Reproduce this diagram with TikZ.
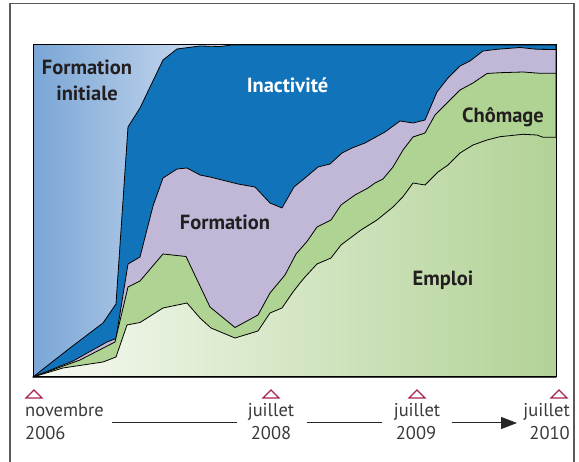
\documentclass[tikz,border=0pt]{standalone}
\usepackage{fontspec}
\setmainfont{PT Sans}
\usetikzlibrary{arrows.meta}
\definecolor{inibl}{RGB}{122,166,214}
\definecolor{inibr}{RGB}{214,226,242}
\definecolor{inact}{RGB}{17,116,186}
\definecolor{lav}{RGB}{193,184,216}
\definecolor{chom}{RGB}{174,211,146}
\definecolor{empl}{RGB}{247,250,243}
\definecolor{empr}{RGB}{178,210,150}
\definecolor{crim}{RGB}{168,35,78}
\definecolor{txt}{RGB}{35,31,32}
\definecolor{tl}{RGB}{58,58,58}
\definecolor{framec}{RGB}{90,90,90}
\tikzset{
  curve/.style={draw=black,line width=0.8pt,line join=round},
  lbl/.style={font=\fontsize{20.5}{24}\selectfont\bfseries,text=txt,inner sep=0pt,anchor=base},
  datetxt/.style={font=\fontsize{18.5}{22}\selectfont,text=tl,inner sep=0pt},
  trimark/.style={draw=crim,line width=1.1pt,line join=miter},
  tline/.style={draw=black!85,line width=1pt}
}
\begin{document}
\begin{tikzpicture}[x=1pt,y=-1pt]
\useasboundingbox (0,0) rectangle (579,462);
% outer frame
\draw[framec,line width=1.3pt] (10,463) -- (10,3.5) -- (574,3.5) -- (574,463);
% Formation initiale
\shade[left color=inibl,right color=inibr] (33,45) rectangle (232,377);
% Inactivite
\filldraw[curve,fill=inact] (33,377) -- (70,348) -- (103,323) -- (116,304) -- (128,127) -- (140,108) -- (163,60) -- (177,49) -- (200,46) -- (220,46.5) -- (232,45) -- (556,45) -- (556,377) -- cycle;
% Formation
\filldraw[curve,fill=lav] (33,377) -- (73,361) -- (107,342) -- (116,338.5) -- (128,264) -- (140,257) -- (153,206) -- (163,178) -- (177,169) -- (187,168) -- (200,175) -- (210,177) -- (222,180) -- (238,184) -- (255,187) -- (270,203) -- (282,208) -- (294,187) -- (305,178) -- (318,167) -- (330,164) -- (342,153) -- (352,148) -- (365,143) -- (385,132) -- (400,121) -- (413,123) -- (425,120) -- (437,92) -- (448,78) -- (460,66) -- (470,61) -- (483,51) -- (497,49.3) -- (520,47.5) -- (537,49.3) -- (556,49.5) -- (556,377) -- cycle;
% Chomage
\filldraw[curve,fill=chom] (33,377) -- (80,360) -- (115,342) -- (128,287) -- (140,281) -- (163,254) -- (186,256.5) -- (210,307) -- (235,327.5) -- (258,315) -- (270,293) -- (285,275) -- (296,254) -- (307,241.5) -- (317,227) -- (331,220) -- (341,205) -- (355,195) -- (368,188) -- (375,183) -- (383,179) -- (393,167) -- (403,150) -- (413,137) -- (425,133) -- (435,115) -- (448,102) -- (460,90) -- (473,83) -- (487,73.5) -- (500,72.7) -- (523,72) -- (540,73.3) -- (556,73.3) -- (556,377) -- cycle;
% Emploi
\shade[left color=empl,right color=empr] (33,377) -- (63,368) -- (103,362) -- (116,357) -- (127,325) -- (140,322.5) -- (163,308) -- (187,303) -- (200,318) -- (211,328) -- (235,338) -- (258,331) -- (270,313) -- (282,308) -- (293,292) -- (300,283) -- (305,277) -- (317,264) -- (331,258) -- (341,245) -- (361,230) -- (377,220) -- (393,207) -- (403,196.7) -- (413,183) -- (425,185) -- (438,172) -- (448,165) -- (460,153) -- (473,145) -- (487,140) -- (500,136.7) -- (523,134.3) -- (537,135) -- (543,137.3) -- (556,137.3) -- (556,377) -- cycle;
\draw[curve] (33,377) -- (63,368) -- (103,362) -- (116,357) -- (127,325) -- (140,322.5) -- (163,308) -- (187,303) -- (200,318) -- (211,328) -- (235,338) -- (258,331) -- (270,313) -- (282,308) -- (293,292) -- (300,283) -- (305,277) -- (317,264) -- (331,258) -- (341,245) -- (361,230) -- (377,220) -- (393,207) -- (403,196.7) -- (413,183) -- (425,185) -- (438,172) -- (448,165) -- (460,153) -- (473,145) -- (487,140) -- (500,136.7) -- (523,134.3) -- (537,135) -- (543,137.3) -- (556,137.3);
% chart border
\draw[black,line width=1pt] (33,45) rectangle (556,377);
% labels
\node[lbl] (fi1) at (87,75) {Formation};
\node[lbl] (fi2) at (87,101) {initiale};
\node[lbl,text=white] (ina) at (287.5,92.7) {Inactivité};
\node[lbl] (form) at (225,230) {Formation};
\node[lbl] (cho) at (503,123) {Chômage};
\node[lbl] (emp) at (443,286) {Emploi};
% timeline markers
\draw[trimark] (26,398) -- (34,390) -- (42,398) -- cycle;
\draw[trimark] (263,398) -- (271,390) -- (279,398) -- cycle;
\draw[trimark] (409,398) -- (417,390) -- (425,398) -- cycle;
\draw[trimark] (551,398) -- (559,390) -- (567,398) -- cycle;
% timeline texts
\node[datetxt,anchor=base west] (d1a) at (25,417) {novembre};
\node[datetxt,anchor=base west] (d1b) at (25,440) {2006};
\node[datetxt,anchor=base] (d2a) at (271,417) {juillet};
\node[datetxt,anchor=base] (d2b) at (271,440) {2008};
\node[datetxt,anchor=base] (d3a) at (417,417) {juillet};
\node[datetxt,anchor=base] (d3b) at (416,440) {2009};
\node[datetxt,anchor=base east] (d4a) at (570,417) {juillet};
\node[datetxt,anchor=base east] (d4b) at (570,440) {2010};
% timeline connectors
\coordinate (l1s) at (112,423);
\coordinate (l1e) at (237,423);
\coordinate (l2s) at (307,423);
\coordinate (l2e) at (382,423);
\coordinate (l3s) at (452,423);
\coordinate (l3e) at (517,423);
\draw[tline] (l1s) -- (l1e);
\draw[tline] (l2s) -- (l2e);
\draw[tline,-{Triangle[length=16pt,width=12pt]}] (l3s) -- (l3e);
\end{tikzpicture}
\end{document}
